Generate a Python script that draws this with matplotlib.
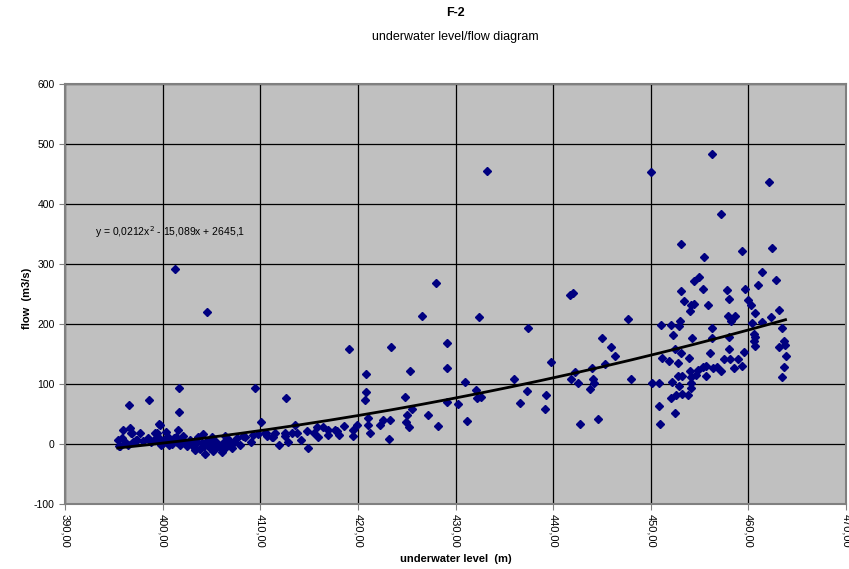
import matplotlib.pyplot as plt
from matplotlib.ticker import FuncFormatter, MultipleLocator
import numpy as np

plt.rcParams['font.family'] = ['Liberation Sans', 'DejaVu Sans']
plt.rcParams['axes.unicode_minus'] = False

# underwater level (m) / flow (m3/s)
level = [
    # 395 - 403
    401.7, 398.6, 396.6, 401.65, 395.9, 396.7, 396.9, 397.65, 397.3, 395.4,
    395.5, 399.6, 399.4, 401.6, 403.3, 401.3, 404.5, 409.5, 410.1, 399.7,
    396.8, 395.6, 397.4, 399.2, 399.5, 401.4, 403.3, 404.3, 405.2, 406.1,
    407.1, 408.4, 409.0, 409.3, 409.8, 410.6, 410.7, 411.3, 411.5, 411.9,
    399.5, 400.0, 400.2, 400.5, 400.8, 401.0, 401.2, 401.5, 401.8, 402.0,
    402.3, 402.5, 402.8, 403.0, 403.2, 403.5, 403.8, 404.0, 404.2, 404.5,
    404.8, 405.0, 405.3, 405.5, 405.8, 406.0, 406.2, 406.5, 406.8, 407.0,
    407.3, 407.6, 407.9, 408.2, 400.3, 400.6, 402.1, 403.6, 404.1, 405.1,
    406.4, 399.8, 398.5, 398.0, 398.8, 399.2, 396.2, 396.5, 395.8, 397.0,
    # 410 - 430
    428.0, 426.6, 419.1, 423.4, 429.1, 429.1, 425.3, 420.8, 420.8, 420.7,
    424.8, 412.6, 430.3, 429.1, 425.5, 425.0, 427.2, 428.2, 424.9, 425.2,
    423.3, 422.6, 422.3, 423.2, 421.0, 421.0, 421.2, 419.9, 419.5, 419.5,
    418.6, 418.1, 417.9, 417.7, 416.9, 416.9, 416.4, 415.8, 415.9, 415.5,
    414.8, 414.9, 414.2, 413.8, 413.3, 413.6, 412.8, 412.5, 412.5, 411.2,
    410.5,
    # 430 - 448
    433.2, 441.7, 442.0, 432.4, 437.4, 447.7, 445.0, 445.9, 446.3, 439.8,
    445.3, 444.0, 442.2, 431.0, 436.0, 441.8, 444.1, 444.2, 442.5, 448.0,
    432.1, 437.3, 443.8, 432.2, 432.6, 436.6, 439.3, 439.2, 431.2, 442.7,
    444.6,
    # 450 - 464
    456.3, 450.0, 462.1, 457.2, 453.1, 459.3, 462.4, 455.5, 461.4, 454.9,
    454.4, 462.8, 453.1, 455.4, 457.8, 459.7, 461.0, 453.4, 458.0, 460.0,
    454.1, 454.4, 455.9, 460.3, 454.0, 460.7, 463.1, 457.9, 458.6, 458.2,
    462.3, 461.4, 460.4, 451.0, 452.1, 453.0, 452.9, 452.3, 456.3, 463.4,
    454.2, 456.3, 458.0, 460.6, 460.7, 460.6, 460.7, 463.6, 463.7, 463.1,
    452.5, 453.1, 458.0, 456.1, 459.6, 463.8, 451.2, 451.9, 453.9, 452.8,
    457.5, 458.1, 458.9, 459.3, 458.5, 463.6, 463.4, 454.0, 454.8, 455.3,
    455.7, 456.4, 456.8, 457.2, 455.7, 454.6, 454.1, 452.8, 453.2, 450.1,
    450.8, 452.2, 452.9, 454.1, 454.1, 452.1, 452.6, 453.2, 453.8, 450.8,
    450.9, 452.5,
]
flow = [
    93, 73, 65, 53, 23, 26, 18, 19, 7, 7,
    -4, 33, 18, 23, -10, 292, 220, 93, 36, 32,
    18, -4, 7, 18, 12, 12, -7, -16, -11, -13,
    -7, 11, 4, 15, 17, 19, 14, 12, 18, -2,
    5, 2, 8, 12, 5, 0, 10, 4, -2, 8,
    2, -4, 6, 0, -5, 3, -8, 2, -3, 5,
    -6, 0, -9, 4, -3, -8, 2, -5, 6, -2,
    4, 10, -1, 14, 20, -2, 14, 12, 16, 12,
    13, -1, 10, 5, 3, 8, 2, -2, 10, 3,
    268, 213, 158, 161, 169, 126, 122, 117, 87, 74,
    78, 77, 67, 70, 58, 49, 48, 30, 36, 29,
    40, 40, 32, 8, 43, 32, 19, 31, 23, 13,
    30, 15, 21, 24, 24, 15, 29, 29, 12, 19,
    21, -6, 7, 19, 19, 32, 4, 18, 14, 12,
    19,
    455, 248, 252, 212, 194, 208, 177, 161, 147, 136,
    133, 126, 120, 103, 108, 108, 108, 101, 101, 108,
    90, 89, 92, 76, 78, 69, 81, 59, 39, 33,
    42,
    484, 453, 436, 383, 334, 322, 326, 311, 287, 279,
    272, 274, 255, 259, 256, 258, 265, 239, 242, 240,
    231, 233, 231, 231, 221, 218, 223, 214, 213, 205,
    211, 204, 201, 198, 199, 205, 196, 182, 194, 194,
    176, 176, 179, 183, 178, 171, 164, 172, 165, 162,
    158, 151, 158, 151, 154, 146, 143, 138, 144, 135,
    142, 142, 142, 130, 126, 129, 112, 122, 123, 128,
    130, 126, 129, 122, 114, 115, 112, 114, 113, 101,
    101, 103, 97, 102, 93, 77, 82, 84, 82, 63,
    33, 52,
]

# polynomial trendline as printed on the chart
coef = [0.0212, -15.089, 2645.1]
trend_label = 'y = 0,0212x$^2$ - 15,089x + 2645,1'

fig = plt.figure(figsize=(8.49, 5.69), dpi=100)
ax = fig.add_axes([0.0766, 0.1142, 0.9199, 0.7382])
ax.set_facecolor('#C0C0C0')

ax.plot(level, flow, linestyle='none', marker='D', markersize=3.6,
        color='#000080', zorder=2)

xs = np.linspace(min(level), max(level), 200)
ax.plot(xs, np.polyval(coef, xs), color='black', linewidth=2, zorder=3)

ax.text(393.1, 353, trend_label, fontsize=7.5, va='center', zorder=0.4)

ax.set_xlim(390, 470)
ax.set_ylim(-100, 600)
ax.xaxis.set_major_locator(MultipleLocator(10))
ax.yaxis.set_major_locator(MultipleLocator(100))
ax.xaxis.set_major_formatter(FuncFormatter(lambda v, p: ('%.2f' % v).replace('.', ',')))
ax.set_axisbelow(True)
ax.grid(True, color='black', linewidth=0.9)

for lab in ax.get_xticklabels():
    lab.set_rotation(270)
ax.tick_params(axis='both', labelsize=7.5, length=4, color='#808080')
ax.tick_params(axis='x', labelsize=8, pad=3)
for sp in ax.spines.values():
    sp.set_color('#808080')
    sp.set_linewidth(1.5)

ax.set_xlabel('underwater level  (m)', fontsize=8, fontweight='bold', labelpad=5)
ax.set_ylabel('flow  (m3/s)', fontsize=8, fontweight='bold')
ax.yaxis.set_label_coords(-0.042, 0.49)

fig.text(0.5365, 0.988, 'F-2', fontsize=9, fontweight='bold', ha='center', va='top')
fig.text(0.5365, 0.945, 'underwater level/flow diagram', fontsize=9, ha='center', va='top')

fig.savefig('out.png', dpi=100)
